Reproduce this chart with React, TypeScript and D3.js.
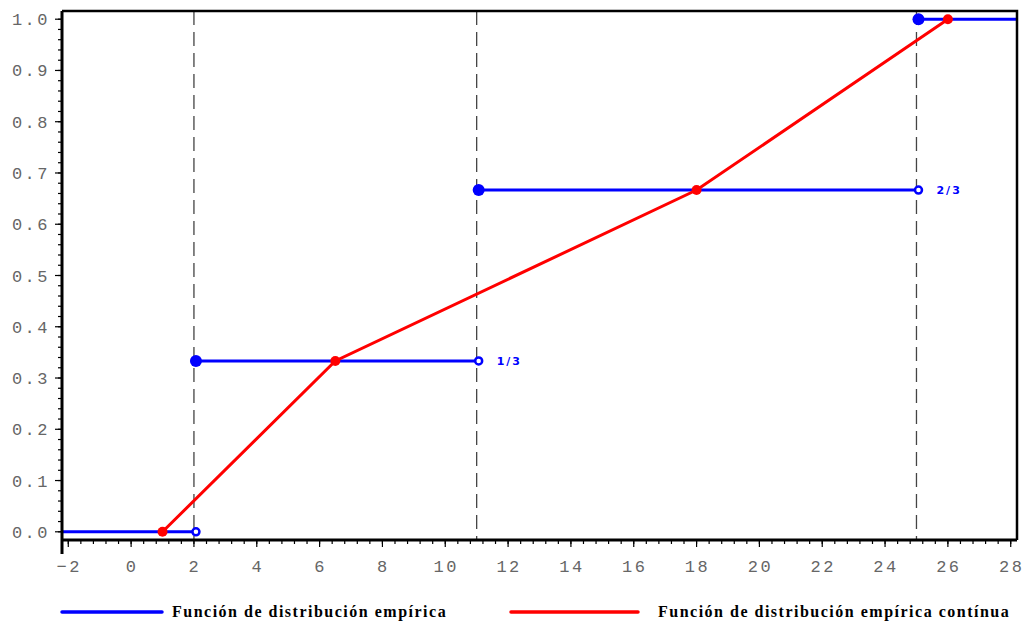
import React, { useEffect, useRef } from "react";
import * as d3 from "d3";

// empirical step function (ECDF) and its continuous (ogive) version
const stepX = [2, 11, 25];
const stepY = [0, 1 / 3, 2 / 3, 1];
const stepLabels = ["", "1/3", "2/3", ""];
const ogiveX = [1, 6.5, 18, 26];
const ogiveY = [0, 1 / 3, 2 / 3, 1];
const xTicks = [-2, 0, 2, 4, 6, 8, 10, 12, 14, 16, 18, 20, 22, 24, 26, 28];
const yTicks = [0, 0.1, 0.2, 0.3, 0.4, 0.5, 0.6, 0.7, 0.8, 0.9, 1.0];
const legendLabels = [
  "Función de distribución empírica",
  "Función de distribución empírica contínua",
];

const W = 1023;
const H = 621;
const left = 62;
const right = 1017;
const top = 11;
const bottom = 540;

const App = () => {
  const ref = useRef<SVGSVGElement>(null);

  useEffect(() => {
    const svg = d3.select(ref.current);
    svg.selectAll("*").remove();

    const x = d3.scaleLinear().domain([-2.2, 28.2]).range([left, right]);
    const y = d3.scaleLinear().domain([-0.016, 1.016]).range([bottom, top]);
    const blue = "#0000ff";
    const red = "#ff0000";
    const tickFont = "'Liberation Mono', monospace";

    // y axis ticks
    const yMinor = d3.range(0, 1.001, 0.02);
    svg
      .selectAll("yminor")
      .data(yMinor)
      .enter()
      .append("line")
      .attr("x1", left - 4)
      .attr("x2", left)
      .attr("y1", (d) => y(d))
      .attr("y2", (d) => y(d))
      .attr("stroke", "#000")
      .attr("stroke-width", 1.2);
    svg
      .selectAll("ymajor")
      .data(yTicks)
      .enter()
      .append("line")
      .attr("x1", left - 7)
      .attr("x2", left)
      .attr("y1", (d) => y(d))
      .attr("y2", (d) => y(d))
      .attr("stroke", "#000")
      .attr("stroke-width", 1.2);
    svg
      .selectAll("ylab")
      .data(yTicks)
      .enter()
      .append("text")
      .attr("x", 50)
      .attr("y", (d) => y(d) + 6)
      .attr("text-anchor", "end")
      .attr("font-family", tickFont)
      .attr("font-size", 17)
      .attr("letter-spacing", 2.5)
      .attr("fill", "#666")
      .text((d) => d3.format(".1f")(d));

    // x axis ticks
    const xMinor = d3.range(-2, 28.01, 0.4);
    svg
      .selectAll("xminor")
      .data(xMinor)
      .enter()
      .append("line")
      .attr("x1", (d) => x(d))
      .attr("x2", (d) => x(d))
      .attr("y1", bottom)
      .attr("y2", bottom + 4)
      .attr("stroke", "#000")
      .attr("stroke-width", 1.2);
    svg
      .selectAll("xmajor")
      .data(xTicks)
      .enter()
      .append("line")
      .attr("x1", (d) => x(d))
      .attr("x2", (d) => x(d))
      .attr("y1", bottom)
      .attr("y2", bottom + 7)
      .attr("stroke", "#000")
      .attr("stroke-width", 1.2);
    svg
      .selectAll("xlab")
      .data(xTicks)
      .enter()
      .append("text")
      .attr("x", (d) => x(d) + 1)
      .attr("y", 572)
      .attr("text-anchor", "middle")
      .attr("font-family", tickFont)
      .attr("font-size", 17)
      .attr("letter-spacing", 2.5)
      .attr("fill", "#666")
      .text((d) => (d < 0 ? "−" + Math.abs(d) : String(d)));

    // dashed verticals at the jumps
    svg
      .selectAll("vline")
      .data(stepX)
      .enter()
      .append("line")
      .attr("x1", (d) => x(d))
      .attr("x2", (d) => x(d))
      .attr("y1", top)
      .attr("y2", bottom)
      .attr("stroke", "#444")
      .attr("stroke-width", 1.3)
      .attr("stroke-dasharray", "14,7");

    // blue steps
    const edges = [-2.2, ...stepX, 28.2];
    const steps = stepY.map((v, i) => ({ x0: edges[i], x1: edges[i + 1], v }));
    svg
      .selectAll("step")
      .data(steps)
      .enter()
      .append("line")
      .attr("x1", (d) => x(d.x0))
      .attr("x2", (d) => x(d.x1))
      .attr("y1", (d) => y(d.v))
      .attr("y2", (d) => y(d.v))
      .attr("stroke", blue)
      .attr("stroke-width", 3);

    // red ogive
    const pts: [number, number][] = ogiveX.map((v, i) => [v, ogiveY[i]]);
    const line = d3
      .line<[number, number]>()
      .x((d) => x(d[0]))
      .y((d) => y(d[1]));
    svg
      .append("path")
      .attr("d", line(pts))
      .attr("fill", "none")
      .attr("stroke", red)
      .attr("stroke-width", 3);
    svg
      .selectAll("odot")
      .data(pts)
      .enter()
      .append("circle")
      .attr("cx", (d) => x(d[0]))
      .attr("cy", (d) => y(d[1]))
      .attr("r", 5)
      .attr("fill", red);

    // open circles at the end of each step, filled at the start
    svg
      .selectAll("open")
      .data(stepX)
      .enter()
      .append("circle")
      .attr("cx", (d) => x(d) + 2)
      .attr("cy", (d, i) => y(stepY[i]))
      .attr("r", 3.5)
      .attr("fill", "white")
      .attr("stroke", blue)
      .attr("stroke-width", 2.5);
    svg
      .selectAll("filled")
      .data(stepX)
      .enter()
      .append("circle")
      .attr("cx", (d) => x(d) + 2)
      .attr("cy", (d, i) => y(stepY[i + 1]))
      .attr("r", 6)
      .attr("fill", blue);
    svg
      .selectAll("slab")
      .data(stepX)
      .enter()
      .append("text")
      .attr("x", (d) => x(d) + 20)
      .attr("y", (d, i) => y(stepY[i]) + 4)
      .attr("font-family", "'DejaVu Sans', sans-serif")
      .attr("font-size", 11)
      .attr("font-weight", "bold")
      .attr("letter-spacing", 2)
      .attr("fill", blue)
      .text((d, i) => stepLabels[i]);

    // frame
    svg
      .append("path")
      .attr("d", `M${left},${top}H${right}V${bottom}`)
      .attr("fill", "none")
      .attr("stroke", "#000")
      .attr("stroke-width", 2.5);
    svg
      .append("path")
      .attr("d", `M${left},${top}V${bottom + 14}M${left},${bottom}H${right}`)
      .attr("fill", "none")
      .attr("stroke", "#000")
      .attr("stroke-width", 3);

    // legend
    const legend = [
      { x0: 62, x1: 162, tx: 172, color: blue, label: legendLabels[0] },
      { x0: 511, x1: 638, tx: 658, color: red, label: legendLabels[1] },
    ];
    const lg = svg.selectAll("leg").data(legend).enter().append("g");
    lg.append("line")
      .attr("x1", (d) => d.x0)
      .attr("x2", (d) => d.x1)
      .attr("y1", 612)
      .attr("y2", 612)
      .attr("stroke", (d) => d.color)
      .attr("stroke-width", 3.5)
      .attr("stroke-linecap", "round");
    lg.append("text")
      .attr("x", (d) => d.tx)
      .attr("y", 617)
      .attr("font-family", "'Liberation Serif', serif")
      .attr("font-size", 16)
      .attr("font-weight", "bold")
      .attr("letter-spacing", 1.5)
      .attr("fill", "#000")
      .text((d) => d.label);
  }, []);

  return (
    <svg
      ref={ref}
      width={W}
      height={H}
      style={{ position: "absolute", left: 0, top: 0, background: "white" }}
    />
  );
};

export default App;
